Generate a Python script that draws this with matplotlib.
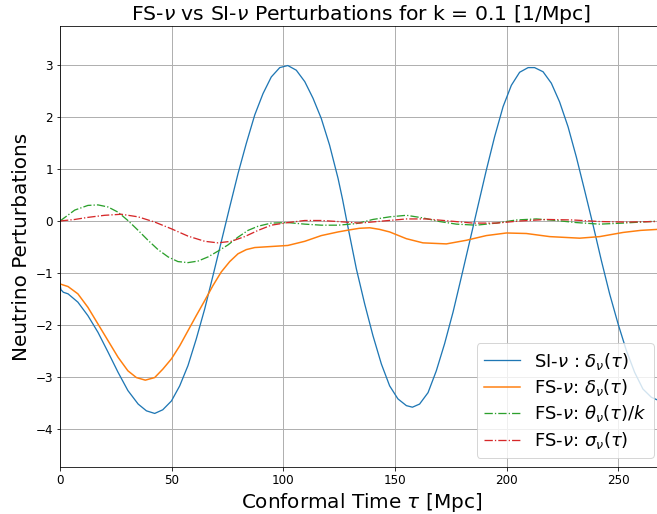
import matplotlib
matplotlib.use("Agg")
import matplotlib.pyplot as plt

# SI-nu delta
tau_si = [0, 0.4, 1.5, 3.6, 8, 12.5, 17, 21.5, 26, 30.4, 35, 38.7, 42.4, 46, 49.9, 53.6, 57.3, 61,
          64.8, 68.5, 72.2, 76, 79.7, 83.4, 87.2, 90.9, 94.6, 98.4, 102, 105.8, 109.6, 113.3, 117,
          120.7, 124.5, 126.5, 128.4, 130.5, 132.7, 136.4, 140.1, 143.9, 147.6, 151.3, 155.1,
          157.8, 161, 164.8, 168.5, 172.2, 176, 179.7, 183.4, 187.2, 190.9, 194.6, 198.4, 202.1,
          205.8, 209.6, 212.5, 216.3, 220, 223.7, 227.5, 231.2, 234.9, 238.7, 242.4, 246.1,
          249.9, 253.6, 257.3, 261, 264.8, 268]
si_delta = [-1.2, -1.32, -1.37, -1.40, -1.56, -1.82, -2.14, -2.52, -2.91, -3.26, -3.52, -3.65,
            -3.70, -3.63, -3.46, -3.17, -2.78, -2.27, -1.69, -1.05, -0.40, 0.27, 0.91, 1.49, 2.04,
            2.45, 2.77, 2.95, 2.99, 2.90, 2.68, 2.36, 1.97, 1.46, 0.82, 0.42, 0.0, -0.45, -0.92,
            -1.59, -2.20, -2.75, -3.17, -3.42, -3.55, -3.58, -3.52, -3.30, -2.88, -2.36, -1.75,
            -1.08, -0.40, 0.30, 0.98, 1.62, 2.20, 2.61, 2.86, 2.95, 2.95, 2.87, 2.65, 2.29, 1.81,
            1.23, 0.59, -0.08, -0.76, -1.40, -1.98, -2.49, -2.91, -3.23, -3.39, -3.45]

# FS-nu delta
tau_fs = [0, 3.6, 8, 12.5, 17, 21.5, 26, 30.4, 34.2, 38.2, 42.4, 46, 49.9, 53.6, 57.3, 61, 64.8,
          68.5, 72.2, 76, 79.7, 83.4, 87.2, 94.6, 102, 109.6, 117, 124.5, 129.7, 134, 138.7, 143,
          147.6, 155.1, 162.5, 173, 182, 190.9, 199.9, 208.8, 219.3, 232.7, 241.6, 252.1, 260, 268]
fs_delta = [-1.21, -1.26, -1.40, -1.66, -1.98, -2.30, -2.62, -2.88, -3.01, -3.06, -3.01, -2.85,
            -2.65, -2.40, -2.11, -1.82, -1.53, -1.24, -0.98, -0.78, -0.63, -0.55, -0.51, -0.49,
            -0.47, -0.39, -0.28, -0.21, -0.17, -0.14, -0.13, -0.16, -0.21, -0.34, -0.42, -0.44,
            -0.37, -0.28, -0.23, -0.24, -0.30, -0.33, -0.30, -0.22, -0.18, -0.16]

# FS-nu theta/k
tau_th = [0, 6.6, 12.5, 17, 21.5, 26, 30.4, 35, 39.4, 43.9, 48.4, 52.8, 57.3, 61.8, 66.3, 70.7,
          75.2, 79.7, 84.2, 88.7, 94.6, 102, 109.6, 117, 124.5, 132.7, 140.1, 147.6, 155.1, 162.5,
          170, 177.5, 186.4, 195.4, 204.3, 213.3, 222.2, 231.2, 241.6, 252.1, 268]
fs_theta = [0.0, 0.21, 0.30, 0.31, 0.27, 0.17, 0.01, -0.18, -0.37, -0.55, -0.69, -0.78, -0.80,
            -0.77, -0.69, -0.58, -0.46, -0.31, -0.18, -0.10, -0.04, -0.03, -0.06, -0.08, -0.08,
            -0.05, 0.03, 0.08, 0.11, 0.06, -0.01, -0.06, -0.08, -0.04, 0.02, 0.04, 0.01, -0.03,
            -0.06, -0.04, 0.0]

# FS-nu sigma
tau_sg = [0, 6.6, 12.5, 20, 27.5, 35, 42.4, 49.9, 57.3, 64.8, 70.7, 76.7, 82.7, 88.7, 94.6, 102,
          109.6, 117, 124.5, 134.2, 144.6, 155.1, 164, 174.5, 184.9, 195.4, 205.8, 217.8, 229.7,
          241.6, 253.6, 268]
fs_sigma = [0.0, 0.03, 0.07, 0.11, 0.13, 0.08, -0.02, -0.15, -0.29, -0.39, -0.42, -0.39, -0.30,
            -0.18, -0.08, -0.03, 0.01, 0.01, -0.01, -0.04, 0.0, 0.04, 0.04, 0.0, -0.04, -0.04,
            0.0, 0.03, 0.02, -0.01, -0.02, -0.01]

xticks = [0, 50, 100, 150, 200, 250]
yticks = [-4, -3, -2, -1, 0, 1, 2, 3]

fig = plt.figure(figsize=(657/72, 514/72), dpi=72)
ax = fig.add_axes([60/657, 47/514, 603/657, 441/514])

ax.plot(tau_si, si_delta, color="#1f77b4", lw=1.3, label=r"SI-$\nu$ : $\delta_\nu(\tau)$")
ax.plot(tau_fs, fs_delta, color="#ff7f0e", lw=1.5, label=r"FS-$\nu$: $\delta_\nu(\tau)$")
ax.plot(tau_th, fs_theta, color="#2ca02c", lw=1.3, ls="-.", label=r"FS-$\nu$: $\theta_\nu(\tau)/k$")
ax.plot(tau_sg, fs_sigma, color="#d62728", lw=1.3, ls="-.", label=r"FS-$\nu$: $\sigma_\nu(\tau)$")

ax.set_xlim(0, 270)
ax.set_ylim(-4.73, 3.75)
ax.set_xticks(xticks)
ax.set_yticks(yticks)
ax.tick_params(labelsize=12)
ax.grid(True, color="#b0b0b0", lw=1.0)
ax.set_xlabel(r"Conformal Time $\tau$ [Mpc]", fontsize=20)
ax.set_ylabel("Neutrino Perturbations", fontsize=20)
ax.set_title(r"FS-$\nu$ vs SI-$\nu$ Perturbations for k = 0.1 [1/Mpc]", fontsize=20.4)
ax.legend(loc="lower right", fontsize=18, labelspacing=0.3)

fig.savefig("out.png", dpi=72)
